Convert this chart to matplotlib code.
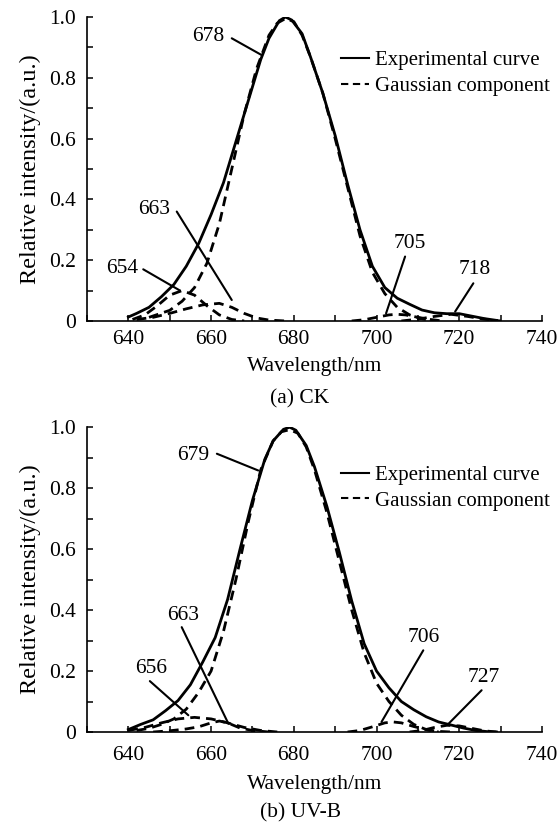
import numpy as np
import matplotlib.pyplot as plt
from matplotlib.ticker import MultipleLocator, FuncFormatter

plt.rcParams['font.family'] = ['Liberation Serif', 'DejaVu Serif']
plt.rcParams['font.size'] = 15.5

#--------data begin--------
# (a) CK
ck_exp_x = [640, 642, 645, 648, 651, 654, 657, 660, 663, 666, 669, 672, 674, 676.5,
            678, 679.5, 682, 684, 687, 690, 693, 696, 699, 702, 705, 708, 711, 714,
            717, 720, 723, 726, 729]
ck_exp_y = [0.013, 0.025, 0.045, 0.08, 0.12, 0.18, 0.255, 0.35, 0.455, 0.59, 0.725,
            0.86, 0.93, 0.988, 1.0, 0.99, 0.945, 0.87, 0.75, 0.61, 0.45, 0.3, 0.18,
            0.11, 0.075, 0.055, 0.036, 0.027, 0.024, 0.024, 0.016, 0.008, 0.002]

ck_g678_x = [645, 650, 653, 656, 659, 662, 665, 668, 671, 674, 676, 678, 680, 682,
             684, 687, 690, 693, 696, 699, 702, 705, 708, 711, 714]
ck_g678_y = [0.012, 0.035, 0.065, 0.11, 0.19, 0.32, 0.5, 0.68, 0.83, 0.94, 0.98,
             0.995, 0.985, 0.94, 0.87, 0.75, 0.6, 0.44, 0.28, 0.16, 0.09, 0.045, 0.02,
             0.007, 0.0]
ck_g654_x = [641, 644, 647, 650, 653, 656, 659, 662, 665, 668]
ck_g654_y = [0.005, 0.02, 0.05, 0.085, 0.1, 0.085, 0.05, 0.02, 0.005, 0.0]
ck_g663_x = [642, 646, 650, 654, 658, 662, 665, 668, 671, 674, 678]
ck_g663_y = [0.005, 0.012, 0.025, 0.04, 0.053, 0.058, 0.045, 0.025, 0.01, 0.003, 0.0]
ck_g705_x = [694, 697, 700, 703, 705, 707, 710, 713, 716]
ck_g705_y = [0.0, 0.004, 0.012, 0.02, 0.022, 0.02, 0.012, 0.005, 0.0]
ck_g718_x = [706, 710, 714, 718, 722, 726, 730]
ck_g718_y = [0.0, 0.006, 0.015, 0.022, 0.015, 0.006, 0.0]

# (b) UV-B
uv_exp_x = [640, 643, 646, 649, 652, 655, 658, 661, 664, 667, 670, 673, 675, 677.5,
            679, 680.5, 683, 685, 688, 691, 694, 697, 700, 703, 706, 709, 712, 715,
            718, 721, 724, 727, 729]
uv_exp_y = [0.008, 0.025, 0.04, 0.07, 0.103, 0.155, 0.23, 0.31, 0.435, 0.6, 0.76,
            0.895, 0.955, 0.993, 1.0, 0.99, 0.94, 0.87, 0.74, 0.59, 0.43, 0.29, 0.2,
            0.145, 0.1, 0.073, 0.05, 0.033, 0.023, 0.013, 0.005, 0.001, 0.0]

uv_g679_x = [642, 645, 648, 651, 654, 657, 660, 663, 666, 669, 672, 675, 677, 679,
             681, 683, 685, 688, 691, 694, 697, 700, 703, 706, 709, 712, 715]
uv_g679_y = [0.005, 0.012, 0.025, 0.043, 0.075, 0.13, 0.2, 0.33, 0.5, 0.69, 0.86,
             0.955, 0.985, 0.992, 0.98, 0.935, 0.86, 0.72, 0.56, 0.4, 0.26, 0.16, 0.1,
             0.055, 0.025, 0.008, 0.0]
uv_g656_x = [640, 644, 648, 652, 656, 660, 664, 668, 672, 676]
uv_g656_y = [0.005, 0.015, 0.03, 0.043, 0.048, 0.043, 0.03, 0.015, 0.005, 0.0]
uv_g663_x = [646, 650, 654, 657, 660, 662, 664, 667, 670, 674]
uv_g663_y = [0.0, 0.004, 0.01, 0.017, 0.03, 0.036, 0.03, 0.013, 0.005, 0.0]
uv_g706_x = [693, 696, 699, 702, 704, 706, 709, 712, 715, 718]
uv_g706_y = [0.0, 0.005, 0.017, 0.03, 0.033, 0.03, 0.018, 0.008, 0.002, 0.0]
uv_g727_x = [708, 711, 714, 717, 720, 723, 726, 729]
uv_g727_y = [0.0, 0.005, 0.015, 0.022, 0.02, 0.012, 0.004, 0.0]
#--------data end--------

dash = (0, (3.5, 2.2))


def y_fmt(v, pos):
  if abs(v) < 1e-9:
    return "0"
  return "%.1f" % v


def setup_axes(ax, tickpad, xlabelpad):
  ax.set_xlim(630, 740)
  ax.set_ylim(0, 1.0)
  ax.spines["top"].set_visible(False)
  ax.spines["right"].set_visible(False)
  ax.spines["left"].set_linewidth(1.2)
  ax.spines["bottom"].set_linewidth(1.2)
  ax.xaxis.set_major_locator(MultipleLocator(20))
  ax.xaxis.set_minor_locator(MultipleLocator(10))
  ax.yaxis.set_major_locator(MultipleLocator(0.2))
  ax.yaxis.set_minor_locator(MultipleLocator(0.1))
  ax.yaxis.set_major_formatter(FuncFormatter(y_fmt))
  ax.tick_params(which="both", direction="in", length=4, width=1.1,
                 top=False, right=False)
  ax.tick_params(axis="x", pad=tickpad)
  ax.tick_params(axis="y", pad=8)
  ax.set_xlabel("Wavelength/nm", labelpad=xlabelpad)
  ax.set_ylabel("Relative intensity/(a.u.)", labelpad=6, fontsize=17.5)


def draw_panel(ax, exp_x, exp_y, comps, notes, leg_y):
  ax.plot(exp_x, exp_y, color="black", lw=2.0, label="Experimental curve")
  for i, (cx, cy) in enumerate(comps):
    ax.plot(cx, cy, color="black", lw=2.0, ls=dash,
            label="Gaussian component" if i == 0 else None)
  for txt, tpos, start, end in notes:
    ax.text(tpos[0], tpos[1], txt, ha="center", va="center")
    ax.annotate("", xy=end, xytext=start,
                arrowprops=dict(arrowstyle="-", lw=1.5, color="black",
                                shrinkA=0, shrinkB=0))
  leg = ax.legend(loc="upper left", bbox_to_anchor=(0.558, leg_y), frameon=False,
                  handlelength=1.35, handletextpad=0.3, labelspacing=0.3,
                  borderpad=0, borderaxespad=0, fontsize=15)
  for h in leg.get_lines():
    h.set_linewidth(1.5)


fig = plt.figure(figsize=(5.59, 8.26), dpi=100)
ax1 = fig.add_axes([0.1556, 0.6114, 0.814, 0.368])
ax2 = fig.add_axes([0.1556, 0.1138, 0.814, 0.369])

ck_notes = [
  ("678", (659.3, 0.935), (665.0, 0.93), (672.2, 0.875)),
  ("663", (646.2, 0.367), (651.7, 0.36), (665.0, 0.069)),
  ("654", (638.6, 0.173), (643.6, 0.17), (652.5, 0.1)),
  ("705", (708.1, 0.256), (706.9, 0.212), (702.3, 0.025)),
  ("718", (723.8, 0.168), (723.4, 0.124), (719.0, 0.031)),
]
uv_notes = [
  ("679", (655.7, 0.907), (661.4, 0.913), (671.4, 0.858)),
  ("663", (653.3, 0.383), (652.9, 0.344), (664.2, 0.027)),
  ("656", (645.6, 0.208), (645.2, 0.167), (654.5, 0.055)),
  ("706", (711.3, 0.311), (711.3, 0.268), (701.2, 0.033)),
  ("727", (725.8, 0.18), (725.4, 0.137), (717.4, 0.027)),
]

draw_panel(ax1, ck_exp_x, ck_exp_y,
           [(ck_g678_x, ck_g678_y), (ck_g654_x, ck_g654_y), (ck_g663_x, ck_g663_y),
            (ck_g705_x, ck_g705_y), (ck_g718_x, ck_g718_y)],
           ck_notes, 0.89)
draw_panel(ax2, uv_exp_x, uv_exp_y,
           [(uv_g679_x, uv_g679_y), (uv_g656_x, uv_g656_y), (uv_g663_x, uv_g663_y),
            (uv_g706_x, uv_g706_y), (uv_g727_x, uv_g727_y)],
           uv_notes, 0.875)
setup_axes(ax1, 6.5, 6)
setup_axes(ax2, 10, 7)

fig.text(300 / 559, 1 - 399 / 826, "(a) CK", ha="center", va="center")
fig.text(300 / 559, 1 - 813 / 826, "(b) UV-B", ha="center", va="center")

plt.savefig("out.png", dpi=100)
